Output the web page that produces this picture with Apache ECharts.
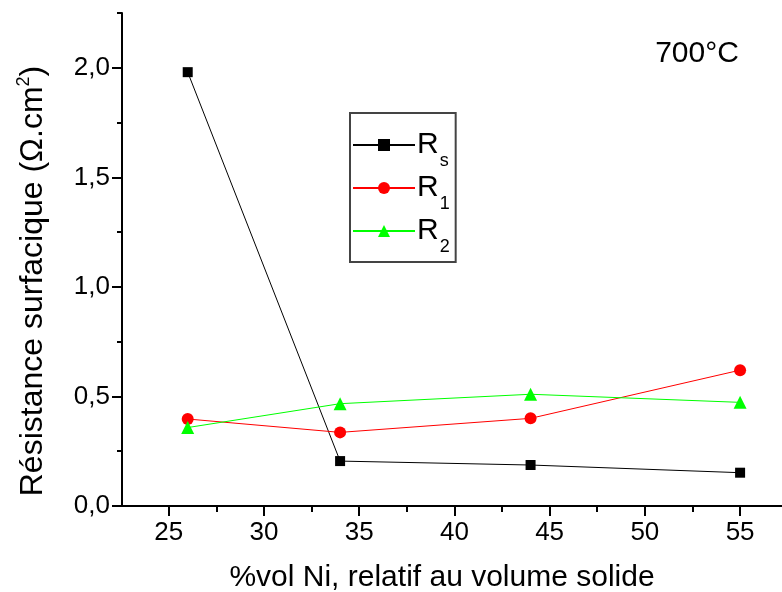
<!DOCTYPE html>
<html>
<head>
<meta charset="utf-8">
<script src="https://cdn.jsdelivr.net/npm/echarts@6/dist/echarts.min.js"></script>
<style>
html,body{margin:0;padding:0;background:#fff;}
#chart{width:782px;height:592px;}
</style>
</head>
<body>
<div id="chart"></div>
<script>
// Data
var xValues = [26, 34, 44, 55];
var rsValues = [1.98, 0.205, 0.187, 0.152];
var r1Values = [0.397, 0.336, 0.40, 0.62];
var r2Values = [0.358, 0.467, 0.51, 0.473];
var seriesNames = ['Rs', 'R1', 'R2'];
var xMajorTicks = [25, 30, 35, 40, 45, 50, 55];
var xMinorTicks = [27.5, 32.5, 37.5, 42.5, 47.5, 52.5];
var yMajorTicks = [0, 0.5, 1.0, 1.5, 2.0];
var yMinorTicks = [0.25, 0.75, 1.25, 1.75, 2.25];
var xTitle = '%vol Ni, relatif au volume solide';
var yTitleMain = 'Résistance surfacique (Ω.cm';
var tempLabel = '700°C';

var FONT = '"Liberation Sans", Arial, Helvetica, sans-serif';

function pairs(ys) { return xValues.map(function (x, i) { return [x, ys[i]]; }); }

var chart = echarts.init(document.getElementById('chart'), null, {renderer: 'canvas'});

var axisBase = {
  type: 'value',
  splitLine: {show: false},
};

var option = {
  animation: false,
  backgroundColor: '#ffffff',
  textStyle: {fontFamily: FONT},
  grid: {left: 122, right: 0, top: 13, bottom: 86, containLabel: false},
  xAxis: [
    Object.assign({}, axisBase, {
      min: 22.55, max: 57.2, position: 'bottom',
      axisLine: {show: true, lineStyle: {color: '#000', width: 2}},
      axisTick: {show: true, inside: false, length: 10, lineStyle: {color: '#000', width: 2}, customValues: xMajorTicks},
      axisLabel: {show: true, color: '#000', fontSize: 26, fontFamily: FONT, margin: 14, customValues: xMajorTicks,
        formatter: function (v) { return String(v); }}
    }),
    Object.assign({}, axisBase, {
      min: 22.55, max: 57.2, position: 'bottom', offset: 0,
      axisLine: {show: false},
      axisTick: {show: true, inside: false, length: 6, lineStyle: {color: '#000', width: 2}, customValues: xMinorTicks},
      axisLabel: {show: false}
    })
  ],
  yAxis: [
    Object.assign({}, axisBase, {
      min: 0, max: 2.25, position: 'left',
      axisLine: {show: true, lineStyle: {color: '#000', width: 2}},
      axisTick: {show: true, inside: false, length: 10, lineStyle: {color: '#000', width: 2}, customValues: yMajorTicks},
      axisLabel: {show: true, color: '#000', fontSize: 26, fontFamily: FONT, margin: 12, customValues: yMajorTicks,
        formatter: function (v) { return v.toFixed(1).replace('.', ','); }}
    }),
    Object.assign({}, axisBase, {
      min: 0, max: 2.25, position: 'left', offset: 0,
      axisLine: {show: false},
      axisTick: {show: true, inside: false, length: 5, lineStyle: {color: '#000', width: 2}, customValues: yMinorTicks},
      axisLabel: {show: false}
    })
  ],
  legend: {
    orient: 'vertical',
    left: 350, top: 113,
    padding: [17, 6, 6, 2],
    itemGap: 3,
    itemWidth: 62, itemHeight: 15,
    borderColor: '#444', borderWidth: 2, borderRadius: 0,
    data: seriesNames,
    formatter: function (name) { return '{r|' + name.charAt(0) + '}{s|' + name.slice(1) + '}'; },
    textStyle: {
      color: '#000', fontFamily: FONT, padding: [0, 0, 0, -3],
      rich: {
        r: {fontSize: 30, fontFamily: FONT, color: '#000', lineHeight: 34, verticalAlign: 'middle'},
        s: {fontSize: 18, fontFamily: FONT, color: '#000', lineHeight: 20, verticalAlign: 'bottom', padding: [0, 0, -8, 1]}
      }
    }
  },
  series: [
    {
      name: 'Rs', type: 'line', xAxisIndex: 0, yAxisIndex: 0,
      data: pairs(rsValues), symbol: 'rect', symbolSize: 10,
      itemStyle: {color: '#000'}, lineStyle: {color: '#000', width: 1}
    },
    {
      name: 'R1', type: 'line', xAxisIndex: 0, yAxisIndex: 0,
      data: pairs(r1Values), symbol: 'circle', symbolSize: 12,
      itemStyle: {color: '#ff0000'}, lineStyle: {color: '#ff0000', width: 1}
    },
    {
      name: 'R2', type: 'line', xAxisIndex: 0, yAxisIndex: 0,
      data: pairs(r2Values), symbol: 'triangle', symbolSize: 13,
      itemStyle: {color: '#00ff00'}, lineStyle: {color: '#00ff00', width: 1}
    }
  ],
  graphic: [
    {
      type: 'text', x: 442, y: 578,
      style: {text: xTitle, font: '30px ' + FONT, fill: '#000', textAlign: 'center', textVerticalAlign: 'middle'}
    },
    {
      type: 'text', x: 33, y: 281, rotation: Math.PI / 2,
      style: {
        text: '{a|' + yTitleMain + '}{p|2}{a|)}',
        fill: '#000', textAlign: 'center', textVerticalAlign: 'middle',
        rich: {
          a: {fontSize: 32, fontFamily: FONT, color: '#000', lineHeight: 36, verticalAlign: 'middle'},
          p: {fontSize: 18, fontFamily: FONT, color: '#000', lineHeight: 36, verticalAlign: 'top', padding: [0, 0, 10, 0]}
        }
      }
    },
    {
      type: 'text', x: 697, y: 54,
      style: {text: tempLabel, font: '30px ' + FONT, fill: '#000', textAlign: 'center', textVerticalAlign: 'middle'}
    }
  ]
};

chart.setOption(option);
</script>
</body>
</html>
